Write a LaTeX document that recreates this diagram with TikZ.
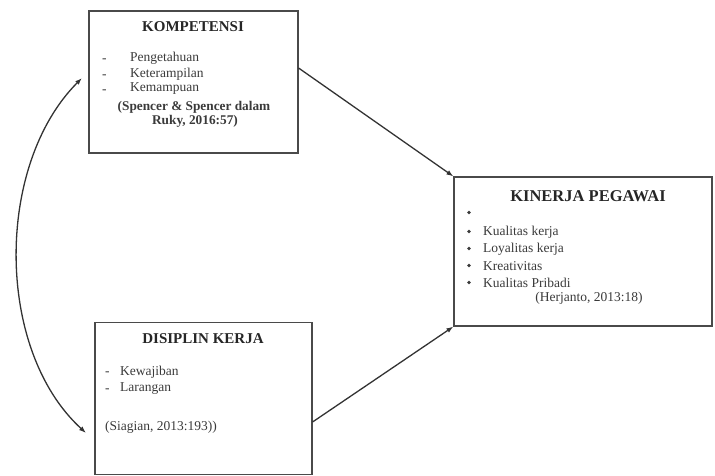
\documentclass[tikz,border=0pt]{standalone}
\usepackage{fontspec}
\setmainfont{Liberation Serif}
\usetikzlibrary{arrows.meta}
\definecolor{boxgray}{HTML}{4A4A4A}
\definecolor{txtgray}{HTML}{3A3A3A}
\tikzset{
  boxnode/.style={draw=boxgray,line width=1.1pt,rectangle,inner sep=0pt},
  titletxt/.style={font=\fontsize{15}{17}\selectfont\bfseries,text=black!85,inner sep=0pt},
  bodytxt/.style={font=\fontsize{13.5}{15}\selectfont,text=txtgray,inner sep=0pt,anchor=west},
  bulletdot/.style={circle,fill=txtgray,inner sep=0pt,minimum size=3.8pt},
  citetxt/.style={font=\fontsize{13.3}{15}\selectfont\bfseries,text=txtgray,inner sep=0pt},
  conn/.style={draw=black!80,line width=1.3pt,-{Latex[length=7pt,width=5pt]}},
  dconn/.style={draw=black!80,line width=1.3pt,{Latex[length=7pt,width=5pt]}-{Latex[length=7pt,width=5pt]}}
}
\begin{document}
\begin{tikzpicture}[x=1pt,y=-1pt]
\useasboundingbox (0,0) rectangle (715,476);
% boxes
\node[boxnode,minimum width=209pt,minimum height=142pt] (komp) at (193.5,82) {};
\node[boxnode,minimum width=258pt,minimum height=149pt] (kin) at (583,251.5) {};
\node[boxnode,minimum width=217pt,minimum height=152pt] (dis) at (203.5,398.5) {};
% KOMPETENSI text
\node[titletxt] (kt) at (193,27) {KOMPETENSI};
\node[bodytxt] (kd1) at (102,61) {-};
\node[bodytxt] (kl1) at (130,58) {Pengetahuan};
\node[bodytxt] (kd2) at (102,77) {-};
\node[bodytxt] (kl2) at (130,74) {Keterampilan};
\node[bodytxt] (kd3) at (102,92) {-};
\node[bodytxt] (kl3) at (130,89) {Kemampuan};
\node[citetxt] (kc1) at (194,107) {(Spencer \& Spencer dalam};
\node[citetxt] (kc2) at (195,121) {Ruky, 2016:57)};
% KINERJA text
\node[titletxt,font=\fontsize{16.5}{18}\selectfont\bfseries] (nt) at (588,196) {KINERJA PEGAWAI};
\node[bulletdot] (nb0) at (469,212.5) {};
\node[bulletdot] (nb1) at (469,231.5) {};
\node[bodytxt] (nl1) at (483,232) {Kualitas kerja};
\node[bulletdot] (nb2) at (469,248.5) {};
\node[bodytxt] (nl2) at (483,249) {Loyalitas kerja};
\node[bulletdot] (nb3) at (469,265.5) {};
\node[bodytxt] (nl3) at (483,266) {Kreativitas};
\node[bulletdot] (nb4) at (469,282.5) {};
\node[bodytxt] (nl4) at (483,283) {Kualitas Pribadi};
\node[bodytxt,anchor=center] (nc) at (589,298) {(Herjanto, 2013:18)};
% DISIPLIN text
\node[titletxt] (dt) at (203,339) {DISIPLIN KERJA};
\node[bodytxt] (dd1) at (105,374) {-};
\node[bodytxt] (dl1) at (120,372) {Kewajiban};
\node[bodytxt] (dd2) at (105,391) {-};
\node[bodytxt] (dl2) at (120,389) {Larangan};
\node[bodytxt] (dc) at (105,427) {(Siagian, 2013:193))};
% connectors
\draw[conn] ([yshift=14pt]komp.east) -- (kin.north west);
\draw[conn] ([yshift=-23.5pt]dis.east) -- (kin.south west);
\coordinate (ctop) at (82,78);
\coordinate (cbot) at (86,433);
\draw[dconn] (ctop) .. controls (-5,165) and (-5,350) .. (cbot);
\end{tikzpicture}
\end{document}
